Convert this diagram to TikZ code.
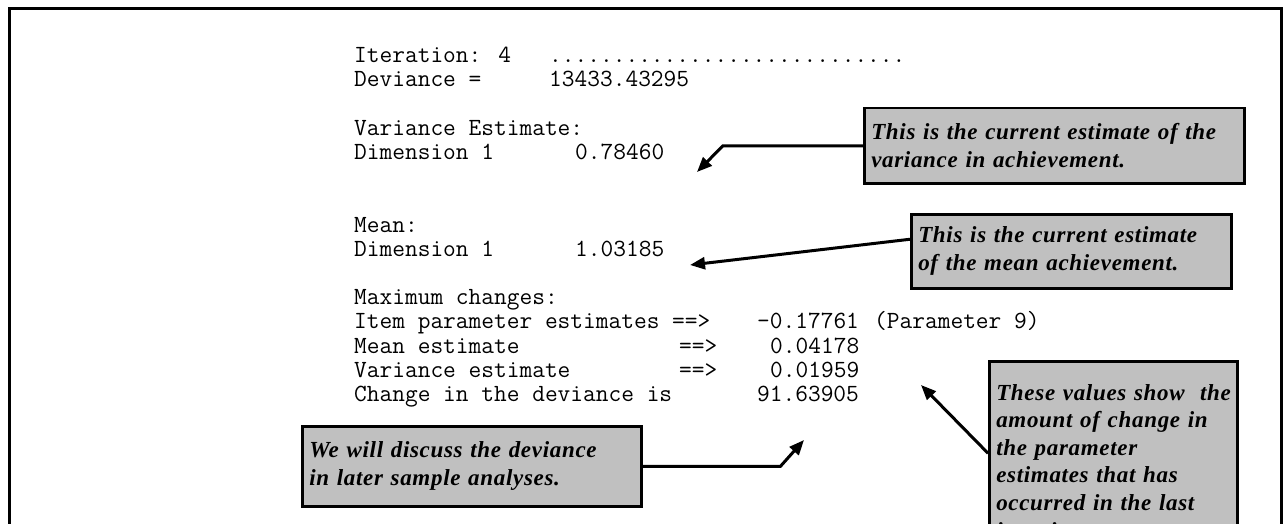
\documentclass[tikz,border=0pt]{standalone}
\usepackage{fontspec}
\newfontfamily\callfont[LetterSpace=3]{Liberation Serif}
\usetikzlibrary{arrows.meta}
\definecolor{boxgray}{HTML}{C0C0C0}
\begin{document}
\begin{tikzpicture}[x=1pt,y=-1pt,
  mono/.style={font=\ttfamily\fontsize{24.7}{24}\selectfont, anchor=base west, inner sep=0pt, text=black},
  callbox/.style={draw=black, line width=2.5pt, fill=boxgray, anchor=north west, inner xsep=7pt, inner ysep=0pt,
     align=left, font=\callfont\bfseries\itshape\fontsize{23}{27.6}\selectfont},
  conn/.style={line width=3pt, draw=black, -{Triangle[length=15pt,width=12pt]}}]
\useasboundingbox (0,0) rectangle (1284,524);
\clip (0,0) rectangle (1284,524);
% frame
\draw[line width=3pt, line join=miter] (9.5,530) -- (9.5,8.5) -- (1281.5,8.5) -- (1281.5,530);
% monospaced text
\def\xo{354}\def\cw{13}
\node[mono] (t0a) at (\xo,62.7) {Iteration: 4};
\node[mono] (t0b) at (\xo+15*\cw,62.7) {............................};
\node[mono] (t1a) at (\xo,86.9) {Deviance =};
\node[mono] (t1b) at (\xo+15*\cw,86.9) {13433.43295};
\node[mono] (t3a) at (\xo,135.3) {Variance Estimate:};
\node[mono] (t4a) at (\xo,159.5) {Dimension 1};
\node[mono] (t4b) at (\xo+17*\cw,159.5) {0.78460};
\node[mono] (t7a) at (\xo,232.1) {Mean:};
\node[mono] (t8a) at (\xo,256.3) {Dimension 1};
\node[mono] (t8b) at (\xo+17*\cw,256.3) {1.03185};
\node[mono] (t10a) at (\xo,304.7) {Maximum changes:};
\node[mono] (t11a) at (\xo,328.9) {Item parameter estimates ==>};
\node[mono] (t11b) at (\xo+31*\cw,328.9) {-0.17761};
\node[mono] (t11c) at (\xo+40*\cw,328.9) {(Parameter 9)};
\node[mono] (t12a) at (\xo,353.1) {Mean estimate};
\node[mono] (t12b) at (\xo+25*\cw,353.1) {==>};
\node[mono] (t12c) at (\xo+32*\cw,353.1) {0.04178};
\node[mono] (t13a) at (\xo,377.3) {Variance estimate};
\node[mono] (t13b) at (\xo+25*\cw,377.3) {==>};
\node[mono] (t13c) at (\xo+32*\cw,377.3) {0.01959};
\node[mono] (t14a) at (\xo,401.5) {Change in the deviance is};
\node[mono] (t14b) at (\xo+31*\cw,401.5) {91.63905};
% callout boxes
\node[callbox, minimum width=380pt, minimum height=75pt, text width=366pt] (vbox) at (863,107)
  {\mbox{This is the current estimate of the}\\\mbox{variance in achievement.}};
\node[callbox, minimum width=320pt, minimum height=74pt, text width=306pt] (mbox) at (910,213)
  {\mbox{This is the current estimate}\\\mbox{of the mean achievement.}};
\node[callbox, minimum width=248pt, minimum height=200pt, text width=234pt] (tbox) at (988,360)
  {\rule{0pt}{13pt}\mbox{These values show\ \ the}\\\mbox{amount of change in}\\\mbox{the parameter}\\\mbox{estimates that has}\\\mbox{occurred in the last}\\\mbox{iteration.}\\[28pt]};
\node[callbox, minimum width=339pt, minimum height=80pt, text width=325pt] (wbox) at (301,425)
  {\mbox{We will discuss the deviance}\\\mbox{in later sample analyses.}};
% connectors
\coordinate (vtip) at (697,172);
\coordinate (mtip) at (690,265);
\coordinate (ttip) at (921,385);
\coordinate (wtip) at (804,440);
\draw[conn] (vbox.west) -- ++(-140,0) -- (vtip);
\draw[conn] ([yshift=12pt]mbox.west) -- (mtip);
\draw[conn] ([yshift=8pt]tbox.west) -- (ttip);
\draw[conn] (wbox.east) -- ++(138,0) -- (wtip);
\end{tikzpicture}
\end{document}
